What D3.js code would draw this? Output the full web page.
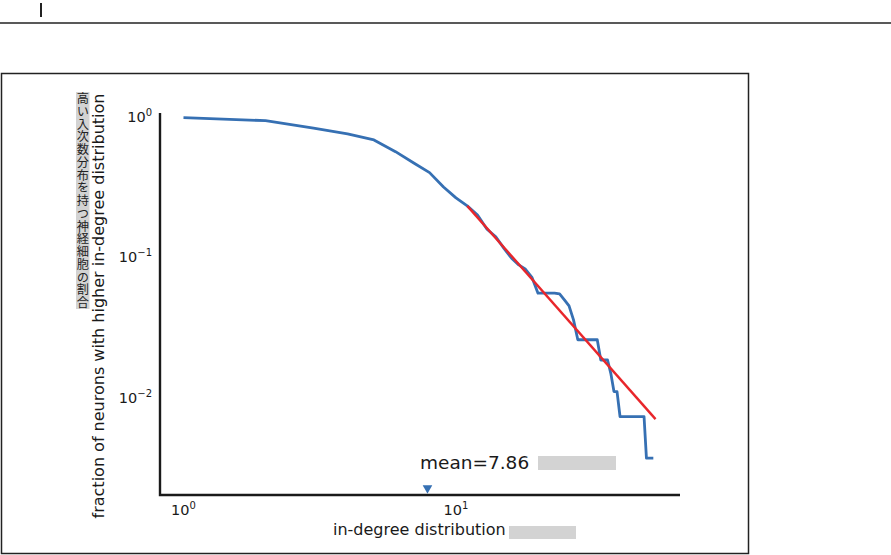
<!DOCTYPE html>
<html>
<head>
<meta charset="utf-8">
<script src="https://cdn.jsdelivr.net/npm/d3@7"></script>
<style>
  html, body { margin: 0; padding: 0; background: #fff; }
  svg { display: block; }
</style>
</head>
<body>
<div id="chart"></div>
<script>
// in-degree CCDF
const degree = [1, 2, 3, 4, 5, 6, 7, 8, 9, 10, 11, 12, 13, 14, 15, 16, 17, 18, 19, 20,
  21, 22, 23, 24, 25, 26, 27, 28, 29, 30, 31, 32, 33, 34, 35, 36, 37, 38, 39, 40,
  41, 42, 43, 44, 45, 46, 47, 48, 49, 50, 51, 52, 53];
const fraction = [0.973, 0.926, 0.818, 0.745, 0.675, 0.557, 0.463, 0.395, 0.312, 0.261,
  0.229, 0.197, 0.156, 0.138, 0.114, 0.097, 0.087, 0.081, 0.071, 0.0547,
  0.0547, 0.0547, 0.0547, 0.054, 0.049, 0.0444, 0.0353, 0.0255, 0.0255, 0.0255,
  0.0255, 0.0255, 0.0255, 0.0183, 0.0183, 0.0183, 0.0147, 0.0109, 0.0109, 0.00724,
  0.00724, 0.00724, 0.00724, 0.00724, 0.00724, 0.00724, 0.00724, 0.00724, 0.00724, 0.00366,
  0.00366, 0.00366, 0.00366];

// power-law fit endpoints
const fitX = [11, 54];
const fitY = [0.229, 0.00694];

const meanDegree = 7.86;
const meanMarkerY = 0.00224;

const xTicks = [1, 10];
const xTickExp = ['0', '1'];
const yTicks = [1, 0.1, 0.01];
const yTickExp = ['0', '\u22121', '\u22122'];

const yLabelEn = 'fraction of neurons with higher in-degree distribution';
const yLabelJa = '高い入次数分布を持つ神経細胞の割合';
const xLabel = 'in-degree distribution';

const W = 891, H = 555;
const blue = '#3670b3';
const red = '#e8262b';
const ink = '#1a1a1a';
const font = '"DejaVu Sans", sans-serif';

const svg = d3.select('#chart').append('svg').attr('width', W).attr('height', H);

// page chrome around the figure
svg.append('line').attr('x1', 0).attr('x2', W).attr('y1', 23).attr('y2', 23)
  .attr('stroke', '#222').attr('stroke-width', 1.5);
svg.append('rect').attr('x', 40).attr('y', 3).attr('width', 2).attr('height', 14).attr('fill', '#222');
svg.append('rect').attr('x', 1.5).attr('y', 73.5).attr('width', 747).attr('height', 480)
  .attr('fill', 'none').attr('stroke', '#222').attr('stroke-width', 1.5);

const x = d3.scaleLog().domain([0.82, 66.4]).range([160, 680]);
const y = d3.scaleLog().domain([1.05, 0.002]).range([113, 495]);

// axes spines
svg.append('path')
  .attr('d', `M${x.range()[0]},${y.range()[0]}V${y.range()[1]}H${x.range()[1]}`)
  .attr('fill', 'none').attr('stroke', ink).attr('stroke-width', 2.4);

xTicks.forEach((t, i) => {
  const txt = svg.append('text').attr('x', x(t)).attr('y', 515)
    .attr('text-anchor', 'middle').attr('font-family', font).attr('font-size', 14.5).attr('fill', ink);
  txt.append('tspan').text('10');
  txt.append('tspan').attr('font-size', 10).attr('dy', -6).text(xTickExp[i]);
});

yTicks.forEach((t, i) => {
  const txt = svg.append('text').attr('x', 152).attr('y', y(t) + 6)
    .attr('text-anchor', 'end').attr('font-family', font).attr('font-size', 14.5).attr('fill', ink);
  txt.append('tspan').text('10');
  txt.append('tspan').attr('font-size', 10).attr('dy', -6).text(yTickExp[i]);
});

// data
const line = d3.line().x((d) => x(d[0])).y((d) => y(d[1]));
svg.append('path')
  .attr('d', line(degree.map((d, i) => [d, fraction[i]])))
  .attr('fill', 'none').attr('stroke', blue).attr('stroke-width', 2.8)
  .attr('stroke-linejoin', 'round');

svg.append('path')
  .attr('d', line(fitX.map((d, i) => [d, fitY[i]])))
  .attr('fill', 'none').attr('stroke', red).attr('stroke-width', 2.4);

// mean marker
svg.append('path')
  .attr('d', d3.symbol(d3.symbolTriangle, 40)())
  .attr('transform', `translate(${x(meanDegree)},${y(meanMarkerY)}) rotate(180)`)
  .attr('fill', blue);

svg.append('text').attr('x', 420).attr('y', 469)
  .attr('font-family', font).attr('font-size', 18.5).attr('fill', ink)
  .text(`mean=${meanDegree}`);
svg.append('rect').attr('x', 538).attr('y', 456).attr('width', 78).attr('height', 14).attr('fill', '#d3d3d3');

// x label
svg.append('text').attr('x', 333).attr('y', 535)
  .attr('font-family', font).attr('font-size', 16).attr('fill', ink)
  .text(xLabel);
svg.append('rect').attr('x', 509).attr('y', 526).attr('width', 67).attr('height', 13).attr('fill', '#d3d3d3');

// y labels
svg.append('text')
  .attr('transform', 'translate(104,306) rotate(-90)')
  .attr('text-anchor', 'middle').attr('font-family', font).attr('font-size', 16).attr('fill', ink)
  .text(yLabelEn);

svg.append('rect').attr('x', 76).attr('y', 92).attr('width', 13.5).attr('height', 217).attr('fill', '#d3d3d3');
svg.append('text')
  .attr('x', 82.8).attr('y', 92.5)
  .style('writing-mode', 'vertical-rl')
  .style('letter-spacing', '0.55px')
  .attr('font-family', '"Noto Sans CJK JP", sans-serif').attr('font-size', 12.2).attr('fill', '#222')
  .text(yLabelJa);
</script>
</body>
</html>
